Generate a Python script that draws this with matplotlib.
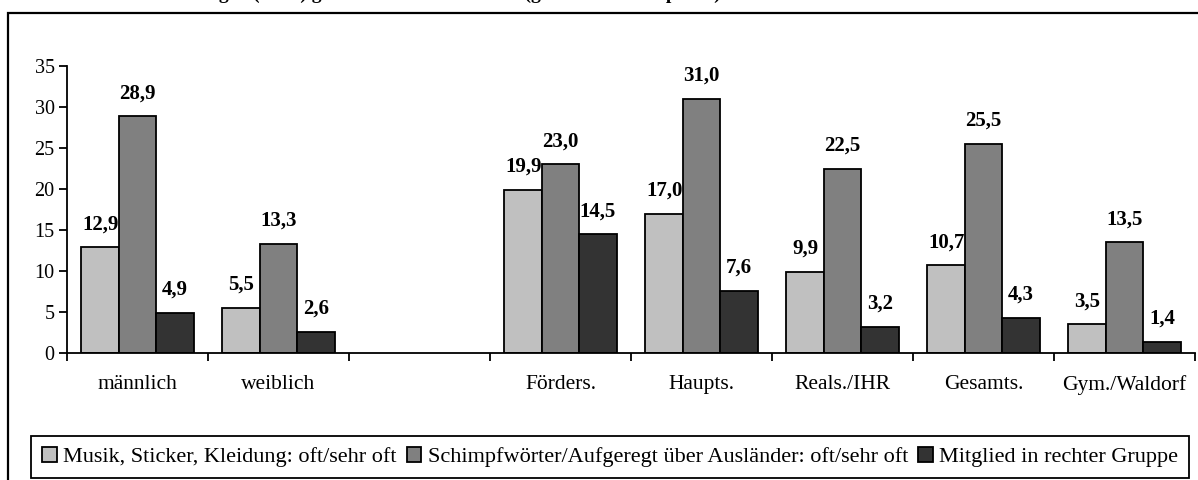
import matplotlib
matplotlib.use("Agg")
import matplotlib.pyplot as plt
from matplotlib.patches import Rectangle
import numpy as np

plt.rcParams['font.family'] = ['Liberation Serif', 'DejaVu Serif']

# Gruppen (leerer Platz trennt Geschlecht und Schulform)
kategorien = ["männlich", "weiblich", "", "Förders.", "Haupts.",
              "Reals./IHR", "Gesamts.", "Gym./Waldorf"]

musik = [12.9, 5.5, np.nan, 19.9, 17.0, 9.9, 10.7, 3.5]
schimpf = [28.9, 13.3, np.nan, 23.0, 31.0, 22.5, 25.5, 13.5]
mitglied = [4.9, 2.6, np.nan, 14.5, 7.6, 3.2, 4.3, 1.4]

reihen = ["Musik, Sticker, Kleidung: oft/sehr oft",
          "Schimpfwörter/Aufgeregt über Ausländer: oft/sehr oft",
          "Mitglied in rechter Gruppe"]
farben = ["#C0C0C0", "#808080", "#333333"]

fig = plt.figure(figsize=(11.98, 4.8), dpi=100)
ax = fig.add_axes([67 / 1198, 1 - 353 / 480, 1128 / 1198, 287 / 480])

# Rahmen um das Diagramm
fig.patches.append(Rectangle((8 / 1198, -0.1), 1.1, 1 - 13 / 480 + 0.1,
                             transform=fig.transFigure, fill=False,
                             edgecolor="black", linewidth=1.6))

# Überschrift (oben abgeschnitten)
fig.text(0.004, 1 + 1.5 / 480,
         "Abb.: Rechte Orientierungen (in %) getrennt nach Schulform (gewichtete Stichprobe)",
         fontsize=14, fontweight="bold", va="baseline", ha="left")

mitte = np.arange(len(kategorien)) + 0.5
breite = 0.265

for k, (werte, name, farbe) in enumerate(zip([musik, schimpf, mitglied], reihen, farben)):
    xs = mitte + (k - 1) * breite
    ax.bar(xs, werte, width=breite, color=farbe, edgecolor="black",
           linewidth=1.3, label=name)
    for x, v in zip(xs, werte):
        if np.isnan(v):
            continue
        ax.annotate(f"{v:.1f}".replace(".", ","), (x, v), xytext=(0, 16.5),
                    textcoords="offset points", ha="center", va="center",
                    fontsize=15, fontweight="bold")

ax.set_xlim(0, len(kategorien))
ax.set_ylim(0, 35)
ax.set_yticks(range(0, 36, 5))
ax.set_xticks(range(len(kategorien) + 1))
ax.set_xticklabels([])
ax.set_xticks(mitte, kategorien, minor=True)
ax.tick_params(axis="x", which="minor", length=0, pad=16, labelsize=15.5)
ax.tick_params(axis="x", which="major", length=6, width=1.3, direction="out")
ax.tick_params(axis="y", length=6, width=1.3, labelsize=14.5, pad=3)

for s in ["top", "right"]:
    ax.spines[s].set_visible(False)
for s in ["left", "bottom"]:
    ax.spines[s].set_linewidth(1.3)

leg = fig.legend(loc="lower left", bbox_to_anchor=(31 / 1198, 2 / 480),
                 ncol=3, fontsize=16, frameon=True, fancybox=False,
                 edgecolor="black", framealpha=1, handlelength=0.65, handleheight=0.65,
                 handletextpad=0.3, columnspacing=0.45, borderpad=0.5,
                 borderaxespad=0)
leg.get_frame().set_linewidth(1.3)

fig.savefig("out.png", dpi=100)
